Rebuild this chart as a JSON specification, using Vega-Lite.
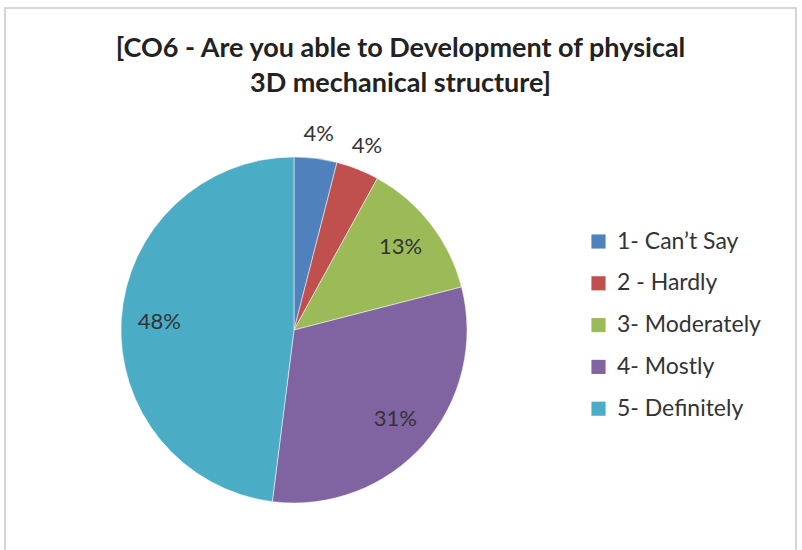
{
  "$schema": "https://vega.github.io/schema/vega-lite/v6.json",
  "width": 791,
  "height": 560,
  "autosize": "none",
  "padding": {"left": 5, "top": 8, "right": 6, "bottom": 0},
  "background": "white",
  "view": {"stroke": "#c8c8c8", "strokeWidth": 1.5},
  "title": {
    "text": ["[CO6 - Are you able to Development of physical", "3D mechanical structure]"],
    "font": "Lato",
    "fontSize": 27,
    "fontWeight": "bold",
    "color": "#222222",
    "lineHeight": 35,
    "anchor": "middle",
    "frame": "group",
    "baseline": "top",
    "offset": -90
  },
  "config": {"view": {"stroke": "#c8c8c8", "strokeWidth": 1.5}},
  "data": {
    "values": [
      {"category": "1- Can’t Say", "value": 4, "label": "4%"},
      {"category": "2 - Hardly", "value": 4, "label": "4%"},
      {"category": "3- Moderately", "value": 13, "label": "13%"},
      {"category": "4- Mostly", "value": 31, "label": "31%"},
      {"category": "5- Definitely", "value": 48, "label": "48%"}
    ]
  },
  "encoding": {
    "theta": {"field": "value", "type": "quantitative", "stack": true},
    "order": {"field": "category", "type": "nominal"}
  },
  "layer": [
    {
      "mark": {"type": "arc", "x": 289, "y": 322, "outerRadius": 173, "stroke": "white", "strokeWidth": 0.5},
      "encoding": {
        "color": {
          "field": "category",
          "type": "nominal",
          "scale": {
            "domain": ["1- Can’t Say", "2 - Hardly", "3- Moderately", "4- Mostly", "5- Definitely"],
            "range": ["#4F81BD", "#C0504D", "#9BBB59", "#8064A2", "#4BACC6"]
          },
          "legend": {
            "title": null,
            "orient": "none",
            "legendX": 582,
            "legendY": 222,
            "symbolType": "square",
            "symbolSize": 200,
            "symbolStrokeWidth": 0,
            "labelFont": "Lato",
            "labelFontSize": 23,
            "labelColor": "#333333",
            "labelOffset": 7,
            "rowPadding": 17.8
          }
        }
      }
    },
    {
      "mark": {"type": "text", "x": 289, "y": 322, "radius": 135, "font": "Lato", "fontSize": 22, "color": "#333333"},
      "encoding": {
        "text": {"condition": {"test": "datum.value > 5", "field": "label"}, "value": ""}
      }
    },
    {
      "mark": {"type": "text", "x": 289, "y": 322, "radius": 198, "font": "Lato", "fontSize": 22, "color": "#333333"},
      "encoding": {
        "text": {"condition": {"test": "datum.value <= 5", "field": "label"}, "value": ""}
      }
    }
  ]
}
